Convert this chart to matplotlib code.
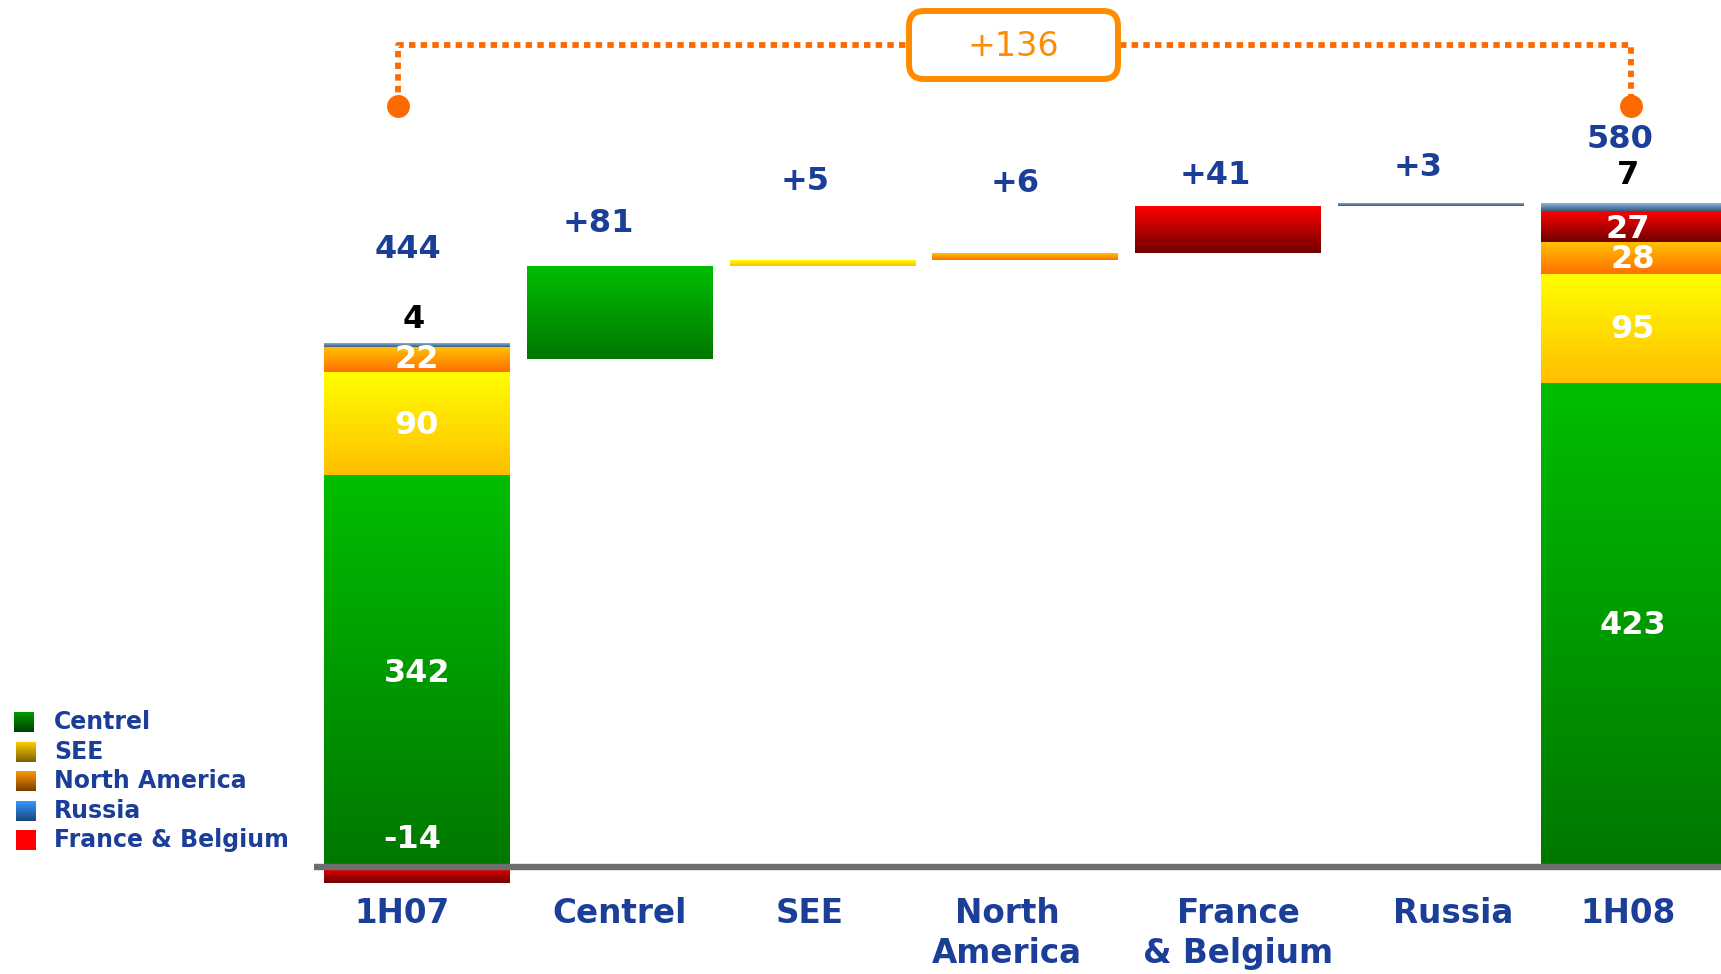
import numpy as np
import matplotlib
matplotlib.use('Agg')
import matplotlib.pyplot as plt
from matplotlib.colors import LinearSegmentedColormap
from matplotlib.patches import FancyBboxPatch
from matplotlib.transforms import Affine2D

# ---------------- data ----------------
categories = ['1H07', 'Centrel', 'SEE', 'North\nAmerica', 'France\n& Belgium', 'Russia', '1H08']
segments = ['Centrel', 'SEE', 'North America', 'France & Belgium', 'Russia']
values_1h07 = [342, 90, 22, -14, 4]
values_delta = [81, 5, 6, 41, 3]
values_1h08 = [423, 95, 28, 27, 7]
total_1h07 = 444
total_1h08 = 580
total_change = 136
legend_order = ['Centrel', 'SEE', 'North America', 'Russia', 'France & Belgium']

# ---------------- style ----------------
W, H = 1721, 974
BLUE = '#1B3F98'
ORANGE_LINE = '#FF6A00'
ORANGE_BOX = '#FF8C00'
grad = {  # (bottom, top)
    'Centrel': ('#007700', '#00BE00'),
    'SEE': ('#FFBE00', '#FFFF00'),
    'North America': ('#FF6E00', '#FFC400'),
    'France & Belgium': ('#6E0000', '#FF0000'),
    'Russia': ('#3C5878', '#90C4F4'),
}
legend_grad = {
    'Centrel': ('#004000', '#009A00'),
    'SEE': ('#7A6000', '#FFCC00'),
    'North America': ('#7A3C00', '#FF9900'),
    'Russia': ('#1A4878', '#3399FF'),
    'France & Belgium': ('#FF0000', '#FF0000'),
}

# pixel -> data helpers
X0, PITCH = 417.0, 202.8
Y0, SCALE = 867.0, 1.145
def xd(px):
    return (px - X0) / PITCH
def yd(py):
    return (Y0 - py) / SCALE

fig = plt.figure(figsize=(W / 100, H / 100), dpi=100)
ax = fig.add_axes([0, 0, 1, 1])
ax.axis('off')
pix = Affine2D().scale(1 / W, -1 / H).translate(0, 1) + fig.transFigure

bar_w = 186 / PITCH
grad_img = np.linspace(0, 1, 256).reshape(-1, 1)

def gbar(x, bottom, height, name, z=2):
    lo, hi = (bottom, bottom + height) if height >= 0 else (bottom + height, bottom)
    b = ax.bar(x, hi - lo, bottom=lo, width=bar_w, color='none', linewidth=0, zorder=z)[0]
    cm = LinearSegmentedColormap.from_list(name, list(grad[name]))
    im = ax.imshow(grad_img, extent=[x - bar_w / 2, x + bar_w / 2, lo, hi],
                   origin='lower', aspect='auto', cmap=cm, vmin=0, vmax=1, zorder=z)
    im.set_clip_path(b)

# 1H07 stacked bar
pos = 0.0
neg = 0.0
for name, v in zip(segments, values_1h07):
    if v >= 0:
        gbar(0, pos, v, name)
        pos += v
    else:
        gbar(0, neg, v, name)
        neg += v

# waterfall deltas
level = total_1h07
for i, (name, v) in enumerate(zip(segments, values_delta)):
    gbar(i + 1, level, v, name)
    level += v

# 1H08 stacked bar
pos = 0.0
for name, v in zip(segments, values_1h08):
    gbar(6, pos, v, name)
    pos += v

ax.set_xlim(xd(0), xd(W))
ax.set_ylim(yd(H), yd(0))

# zero line
ax.plot([xd(314), xd(W)], [0, 0], color='#6E6E6E', lw=4.6, solid_capstyle='butt', zorder=5)

# value labels
fs_num = 23
lab = dict(fontsize=fs_num, fontweight='bold', ha='center', va='center', zorder=6)
ax.text(xd(408), yd(249), f'{total_1h07}', color=BLUE, **lab)
ax.text(xd(414), yd(320), f'{values_1h07[4]}', color='black', **lab)
ax.text(xd(417), yd(360), f'{values_1h07[2]}', color='white', **lab)
ax.text(xd(417), yd(425), f'{values_1h07[1]}', color='white', **lab)
ax.text(xd(417), yd(673), f'{values_1h07[0]}', color='white', **lab)
ax.text(xd(412), yd(840), f'{values_1h07[3]}', color='white', **lab)

delta_lab_px = [(598, 223), (805, 181), (1015, 184), (1215, 176), (1418, 168)]
for (px, py), v in zip(delta_lab_px, values_delta):
    ax.text(xd(px), yd(py), f'+{v}', color=BLUE, **lab)

ax.text(xd(1620), yd(139), f'{total_1h08}', color=BLUE, **lab)
ax.text(xd(1628), yd(176), f'{values_1h08[4]}', color='black', **lab)
ax.text(xd(1628), yd(229), f'{values_1h08[3]}', color='white', **lab)
ax.text(xd(1633), yd(259), f'{values_1h08[2]}', color='white', **lab)
ax.text(xd(1633), yd(329), f'{values_1h08[1]}', color='white', **lab)
ax.text(xd(1633), yd(626), f'{values_1h08[0]}', color='white', **lab)

# category labels
cat_x_px = [402, 620, 810, 1007, 1238, 1453, 1628]
for px, c in zip(cat_x_px, categories):
    ax.text(xd(px), yd(897), c, color=BLUE, fontsize=23.5, fontweight='bold',
            ha='center', va='top', linespacing=1.28, multialignment='center', zorder=6)

# bracket
dash = (0, (1.1, 0.9))
ax.plot([xd(398), xd(398), xd(907)], [yd(104), yd(45), yd(45)], color=ORANGE_LINE,
        lw=4.2, linestyle=dash, dash_capstyle='butt', zorder=4)
ax.plot([xd(1120), xd(1631), xd(1631)], [yd(45), yd(45), yd(104)], color=ORANGE_LINE,
        lw=4.2, linestyle=dash, dash_capstyle='butt', zorder=4)
ax.plot([xd(398), xd(1631)], [yd(106), yd(106)], 'o', color=ORANGE_LINE, ms=16.5,
        markeredgewidth=0, linestyle='none', zorder=4)
box = FancyBboxPatch((909, 11), 209, 68, boxstyle='round,pad=0,rounding_size=15',
                     transform=pix, facecolor='white', edgecolor=ORANGE_BOX, lw=4.3, zorder=5)
fig.add_artist(box)
fig.text(1013 / W, 1 - 46 / H, f'+{total_change}', color=ORANGE_BOX, fontsize=24,
         ha='center', va='center', zorder=6)

# legend
leg_y_px = [722, 752, 781, 811, 840]
for name, py in zip(legend_order, leg_y_px):
    x0 = 14 if name == 'Centrel' else 16
    cm = LinearSegmentedColormap.from_list('l' + name, list(legend_grad[name]))
    ax.imshow(grad_img, extent=[xd(x0), xd(x0 + 20), yd(py + 10), yd(py - 10)],
              origin='lower', aspect='auto', cmap=cm, vmin=0, vmax=1, zorder=3)
    ax.text(xd(54), yd(py), name, color=BLUE, fontsize=17, fontweight='bold',
            ha='left', va='center', zorder=6)

ax.set_xlim(xd(0), xd(W))
ax.set_ylim(yd(H), yd(0))
fig.savefig('out.png', dpi=100)
